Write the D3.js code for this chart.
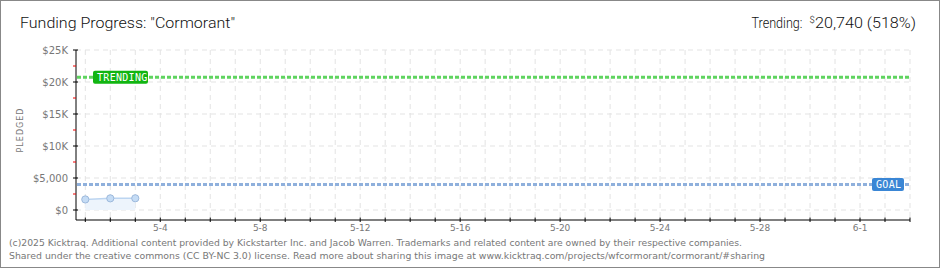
<!DOCTYPE html>
<html><head><meta charset="utf-8">
<script src="https://cdn.jsdelivr.net/npm/d3@7/dist/d3.min.js"></script>
<style>
html,body{margin:0;padding:0;background:#fff;}
svg{display:block;}
</style></head>
<body>
<svg id="c" width="940" height="270"></svg>
<script>
const title = 'Funding Progress: "Cormorant"';
const dates = ["2025-05-01","2025-05-02","2025-05-03"];
const pledged = [1650, 1820, 1830];
const goal = 4000;
const trending = 20740;
const trendingPct = 518;
const yTicks = [0, 5000, 10000, 15000, 20000, 25000];
const yTickLabels = ["$0", "$5,000", "$10K", "$15K", "$20K", "$25K"];
const xLabelDays = ["2025-05-04","2025-05-08","2025-05-12","2025-05-16","2025-05-20","2025-05-24","2025-05-28","2025-06-01"];
const footer1 = "(c)2025 Kicktraq. Additional content provided by Kickstarter Inc. and Jacob Warren. Trademarks and related content are owned by their respective companies.";
const footer2 = "Shared under the creative commons (CC BY-NC 3.0) license. Read more about sharing this image at www.kicktraq.com/projects/wfcormorant/cormorant/#sharing";

const svg = d3.select("#c");
const parse = d3.timeParse("%Y-%m-%d");
const x = d3.scaleTime().domain([parse("2025-05-01"), parse("2025-06-03")]).range([85.3, 910]);
const y = d3.scaleLinear().domain([0, 25000]).range([210, 50]);
const axisX = 76, axisY = 220;
const headFont = "Roboto, Liberation Sans Narrow, sans-serif";

// border
svg.append("rect").attr("x",0.5).attr("y",0.5).attr("width",939).attr("height",267)
  .attr("fill","#fff").attr("stroke","#888");

// grid
const days = d3.timeDay.range(parse("2025-05-01"), d3.timeDay.offset(parse("2025-06-03"),1));
svg.append("g").selectAll("line").data(days).join("line")
  .attr("x1",d=>x(d)).attr("x2",d=>x(d)).attr("y1",50).attr("y2",axisY)
  .attr("stroke","#e3e3e3").attr("stroke-dasharray","5,4");
svg.append("g").selectAll("line").data(yTicks).join("line")
  .attr("x1",axisX).attr("x2",910).attr("y1",d=>y(d)).attr("y2",d=>y(d))
  .attr("stroke","#e3e3e3").attr("stroke-dasharray","5,4");

// data area + line + points
const pts = dates.map((d,i)=>({d:parse(d), v:pledged[i]}));
svg.append("path").datum(pts)
  .attr("d", d3.area().x(p=>x(p.d)).y0(y(0)).y1(p=>y(p.v)))
  .attr("fill","#edf4fc");
svg.append("path").datum(pts)
  .attr("d", d3.line().x(p=>x(p.d)).y(p=>y(p.v)))
  .attr("fill","none").attr("stroke","#bcd5f1").attr("stroke-width",1.5);
svg.append("g").selectAll("circle").data(pts).join("circle")
  .attr("cx",p=>x(p.d)).attr("cy",p=>y(p.v)).attr("r",3.6)
  .attr("fill","#c5dcf5").attr("stroke","#9db9dc").attr("stroke-width",1);

// goal & trending lines
svg.append("line").attr("x1",axisX+1).attr("x2",910).attr("y1",y(goal)).attr("y2",y(goal))
  .attr("stroke","#8fb0dc").attr("stroke-width",3).attr("stroke-dasharray","4,2");
svg.append("line").attr("x1",axisX+1).attr("x2",910).attr("y1",y(trending)).attr("y2",y(trending))
  .attr("stroke","#5fd45f").attr("stroke-width",3).attr("stroke-dasharray","4,2");

// labels
function tag(x0, w, yc, fill, text){
  const g = svg.append("g");
  g.append("rect").attr("x",x0).attr("y",yc-6.5).attr("width",w).attr("height",13).attr("rx",2)
    .attr("fill",fill);
  g.append("text").attr("x",x0+4).attr("y",yc+4).text(text)
    .attr("fill","#fff").attr("font-family","DejaVu Sans Mono, monospace").attr("font-size",10)
    .attr("letter-spacing",0.3);
}
tag(93, 55, y(trending), "#12b512", "TRENDING");
tag(872, 32, y(goal), "#3a86d5", "GOAL");

// y axis
const ya = svg.append("g");
ya.append("line").attr("x1",axisX).attr("x2",axisX).attr("y1",50).attr("y2",axisY).attr("stroke","#000").attr("stroke-width",1);
ya.selectAll("line.t").data(yTicks).join("line").attr("class","t")
  .attr("x1",axisX-3).attr("x2",axisX+2).attr("y1",d=>y(d)).attr("y2",d=>y(d)).attr("stroke","#000");
ya.selectAll("line.m").data(yTicks.slice(0,-1).map(v=>v+2500)).join("line").attr("class","m")
  .attr("x1",axisX-3).attr("x2",axisX).attr("y1",d=>y(d)).attr("y2",d=>y(d)).attr("stroke","#e00");
ya.selectAll("text").data(yTicks).join("text")
  .attr("x",68).attr("y",d=>y(d)+4).attr("text-anchor","end").text((d,i)=>yTickLabels[i])
  .attr("fill","#777").attr("font-family","DejaVu Sans, sans-serif").attr("font-size",10);
svg.append("text").attr("transform","translate(23,130) rotate(-90)").attr("text-anchor","middle")
  .text("PLEDGED").attr("fill","#777").attr("font-family","DejaVu Sans, sans-serif").attr("font-size",8).attr("letter-spacing",1);

// x axis
const xa = svg.append("g");
xa.append("line").attr("x1",axisX).attr("x2",910).attr("y1",axisY).attr("y2",axisY).attr("stroke","#000");
xa.selectAll("line.t").data(days).join("line").attr("class","t")
  .attr("x1",d=>x(d)).attr("x2",d=>x(d)).attr("y1",axisY-2.5).attr("y2",axisY+2).attr("stroke","#000");
xa.selectAll("text").data(xLabelDays.map(parse)).join("text")
  .attr("x",d=>x(d)).attr("y",axisY+11).attr("text-anchor","middle").text(d3.timeFormat("%-m-%-d"))
  .attr("fill","#777").attr("font-family","DejaVu Sans, sans-serif").attr("font-size",9);

// title
svg.append("text").attr("x",20).attr("y",28).text(title)
  .attr("font-family",headFont).attr("font-weight",300).attr("font-size",15).attr("fill","#111")
  .attr("textLength",215).attr("lengthAdjust","spacingAndGlyphs");
const tt = svg.append("text").attr("y",27.5)
  .attr("font-family",headFont).attr("font-weight",300).attr("font-size",14.5).attr("fill","#111");
tt.append("tspan").attr("x",751.5).text("Trending:").attr("textLength",51).attr("lengthAdjust","spacingAndGlyphs");
tt.append("tspan").attr("x",809.5).attr("dy",-5).text("$").attr("font-size",9.5);
tt.append("tspan").attr("x",815).attr("dy",5).text(d3.format(",")(trending) + " (" + trendingPct + "%)")
  .attr("textLength",101).attr("lengthAdjust","spacingAndGlyphs");

// footer
svg.append("text").attr("x",9).attr("y",246).text(footer1)
  .attr("font-family","DejaVu Sans, sans-serif").attr("font-size",9).attr("fill","#777")
  .attr("textLength",733).attr("lengthAdjust","spacingAndGlyphs");
svg.append("text").attr("x",9).attr("y",259).text(footer2)
  .attr("font-family","DejaVu Sans, sans-serif").attr("font-size",9).attr("fill","#777")
  .attr("textLength",756).attr("lengthAdjust","spacingAndGlyphs");
</script>
</body></html>
